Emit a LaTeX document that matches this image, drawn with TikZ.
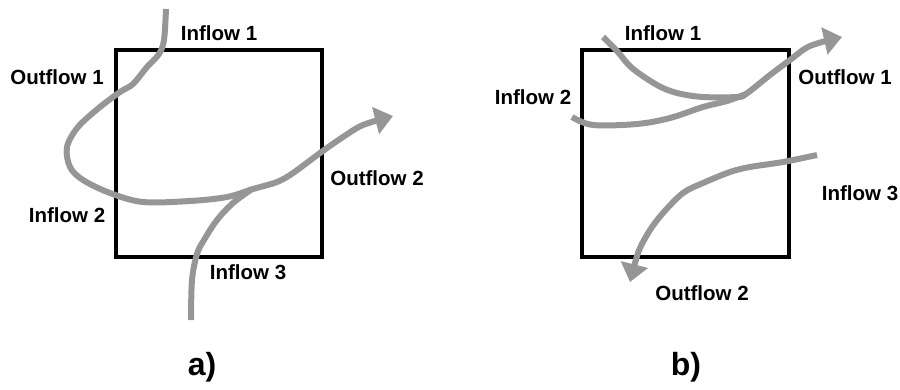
\documentclass[tikz,border=0pt]{standalone}
\usepackage{fontspec}
\setmainfont{Liberation Sans}
\usetikzlibrary{arrows.meta}
\definecolor{flow}{RGB}{150,150,150}
\tikzset{
  boxline/.style={line width=3.5pt, black},
  flowline/.style={line width=6pt, flow, line cap=butt, line join=round},
  flowarrow/.style={flowline, -{Triangle[length=18pt,width=27pt]}},
  lbl/.style={font=\fontsize{20.5}{24}\selectfont\bfseries, inner sep=0pt},
  captionlbl/.style={font=\fontsize{32}{36}\selectfont\bfseries, inner sep=0pt}
}
\begin{document}
\begin{tikzpicture}[x=1pt,y=-1pt]
\useasboundingbox (0,0) rectangle (900,389);
% ---------- a) ----------
\draw[boxline] (116,50) rectangle (322,257);
\draw[flowarrow] plot[smooth, tension=0.55] coordinates {(166,9) (164,40) (159,54) (147,67) (133,84) (120,92) (100,107) (78,127) (67,147) (70,167) (83,180) (110,193) (143,202) (190,201) (227,197) (253,189) (277,182) (293,173) (320,153) (343,137) (363,125) (393,116)};
\draw[flowline] plot[smooth, tension=0.55] coordinates {(191,320) (192,280) (197,254) (204,240) (217,220) (233,203) (252,189)};
\node[lbl] (a1) at (219,33) {Inflow 1};
\node[lbl] (a2) at (57,77) {Outflow 1};
\node[lbl] (a3) at (67,215) {Inflow 2};
\node[lbl] (a4) at (377,178) {Outflow 2};
\node[lbl] (a5) at (248,272) {Inflow 3};
\node[captionlbl] (ca) at (202,367) {a)};
% ---------- b) ----------
\draw[boxline] (582,50) rectangle (789,257);
\draw[flowarrow] plot[smooth, tension=0.55] coordinates {(603,37) (617,51) (632,68) (657,85) (677,93) (703,97) (737,97) (746,94) (770,75) (790,60) (810,46) (842,37)};
\draw[flowline] plot[smooth, tension=0.55] coordinates {(572,117) (593,125) (637,124) (670,118) (703,107) (727,101) (746,94)};
\draw[flowarrow] plot[smooth, tension=0.55] coordinates {(817,155) (783,162) (750,167) (730,172) (703,183) (683,193) (663,213) (650,230) (640,248) (635,263) (630,282)};
\node[lbl] (b1) at (663,33) {Inflow 1};
\node[lbl] (b2) at (533,97) {Inflow 2};
\node[lbl] (b3) at (845,77) {Outflow 1};
\node[lbl] (b4) at (860,193) {Inflow 3};
\node[lbl] (b5) at (702,293) {Outflow 2};
\node[captionlbl] (cb) at (686,367) {b)};
\end{tikzpicture}
\end{document}
